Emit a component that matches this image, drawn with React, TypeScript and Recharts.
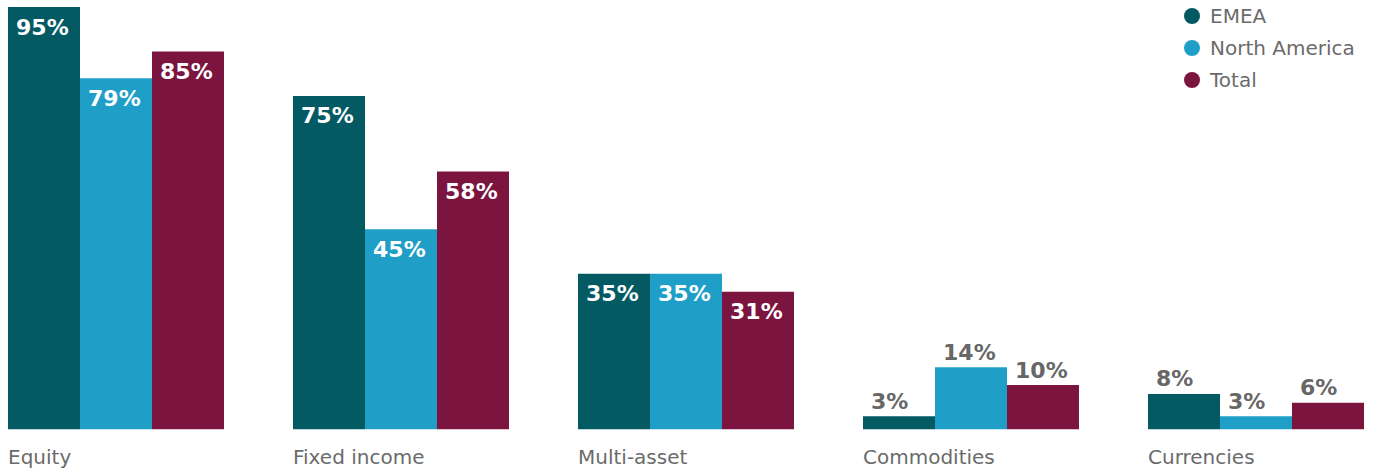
import { Bar, BarChart, LabelList, XAxis, YAxis } from "recharts";

const categories = ["Equity", "Fixed income", "Multi-asset", "Commodities", "Currencies"];
const emea = [95, 75, 35, 3, 8];
const northAmerica = [79, 45, 35, 14, 3];
const total = [85, 58, 31, 10, 6];

const series = [
  { key: "emea", name: "EMEA", color: "#035a62" },
  { key: "northAmerica", name: "North America", color: "#1f9fc7" },
  { key: "total", name: "Total", color: "#7c1440" },
];

const data = categories.map((name, i) => ({
  name,
  emea: emea[i],
  northAmerica: northAmerica[i],
  total: total[i],
}));

const FONT = '"DejaVu Sans", sans-serif';

function ValueLabel(props: any) {
  const { x, y, value } = props;
  const inside = value >= 20;
  return (
    <text
      x={x + 8}
      y={inside ? y + 20 : y - 15}
      dominantBaseline="central"
      textAnchor="start"
      fill={inside ? "#ffffff" : "#676767"}
      fontFamily={FONT}
      fontWeight="bold"
      fontSize={22}
    >
      {value}%
    </text>
  );
}

function CategoryTick(props: any) {
  const { x, payload } = props;
  return (
    <text x={x - 107.5} y={464} textAnchor="start" fill="#6b6b6b" fontFamily={FONT} fontSize={20}>
      {payload.value}
    </text>
  );
}

function LegendBox() {
  return (
    <div
      style={{
        position: "absolute",
        left: 1184,
        top: 0,
        fontFamily: FONT,
        fontSize: 20,
        color: "#6b6b6b",
      }}
    >
      {series.map((s) => (
        <div key={s.key} style={{ display: "flex", alignItems: "center", height: 32 }}>
          <span
            style={{
              width: 16,
              height: 16,
              borderRadius: 8,
              background: s.color,
              marginRight: 10,
              display: "inline-block",
            }}
          />
          <span>{s.name}</span>
        </div>
      ))}
    </div>
  );
}

export default function App() {
  return (
    <div
      style={{
        position: "fixed",
        left: 0,
        top: 0,
        width: 1373,
        height: 471,
        overflow: "hidden",
        background: "#ffffff",
      }}
    >
      <div style={{ position: "absolute", left: -27, top: 0 }}>
        <BarChart
          width={1425}
          height={471}
          data={data}
          margin={{ top: 7, right: 0, bottom: 0, left: 0 }}
          barGap={0}
          barCategoryGap={35}
        >
          <XAxis
            dataKey="name"
            axisLine={false}
            tickLine={false}
            height={41.5}
            interval={0}
            tick={<CategoryTick />}
          />
          <YAxis hide domain={[0, 95]} ticks={[0, 95]} allowDataOverflow />
          {series.map((s) => (
            <Bar key={s.key} dataKey={s.key} name={s.name} fill={s.color} isAnimationActive={false}>
              <LabelList dataKey={s.key} content={<ValueLabel />} />
            </Bar>
          ))}
        </BarChart>
      </div>
      <LegendBox />
    </div>
  );
}
